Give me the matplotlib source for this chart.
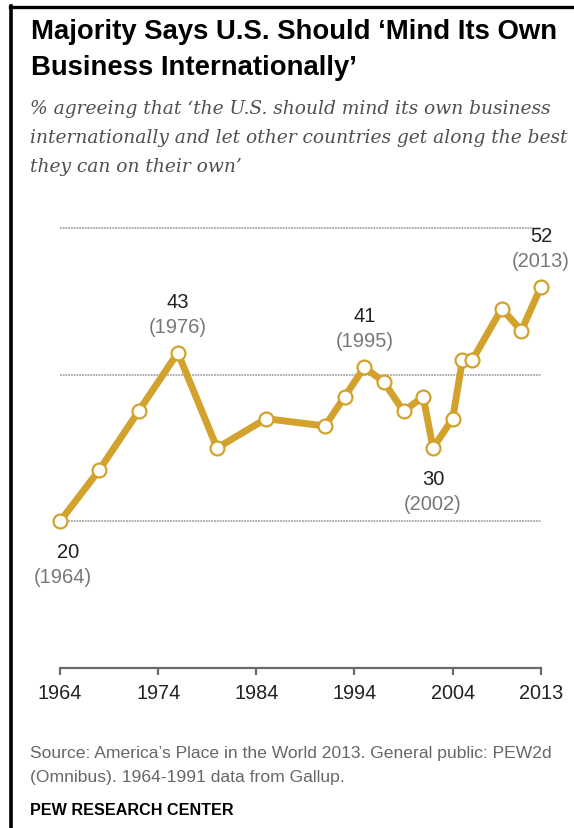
import matplotlib
matplotlib.use("Agg")
import matplotlib.pyplot as plt
from matplotlib.lines import Line2D

years = [1964, 1968, 1972, 1976, 1980, 1985, 1991, 1993, 1995, 1997, 1999, 2001, 2002, 2004, 2005, 2006, 2009, 2011, 2013]
values = [20, 27, 35, 43, 30, 34, 33, 37, 41, 39, 35, 37, 30, 34, 42, 42, 49, 46, 52]
tick_years = [1964, 1974, 1984, 1994, 2004, 2013]
grid_values = [20, 40, 60]
callouts = [(1964, 20, "below"), (1976, 43, "above"), (1995, 41, "above"), (2002, 30, "below"), (2013, 52, "above")]

W, H = 574, 829
fig = plt.figure(figsize=(W / 100, H / 100), dpi=100)

def fx(px):
    return px / W

def fy(py):
    return 1 - py / H

GOLD = "#D2A22C"
FONT = "Liberation Sans"

# frame lines
fig.add_artist(Line2D([fx(11), fx(11)], [fy(7), 0], color="black", lw=2.6, transform=fig.transFigure))
fig.add_artist(Line2D([fx(10), 1], [fy(8), fy(8)], color="black", lw=2.4, transform=fig.transFigure))

# title
fig.text(fx(31), fy(32), "Majority Says U.S. Should \u2018Mind Its Own", fontsize=19.8, fontweight="bold",
         family=FONT, va="center", ha="left", color="black")
fig.text(fx(31), fy(68), "Business Internationally\u2019", fontsize=19.8, fontweight="bold",
         family=FONT, va="center", ha="left", color="black")

sub = ["% agreeing that \u2018the U.S. should mind its own business",
       "internationally and let other countries get along the best",
       "they can on their own\u2019"]
for i, s in enumerate(sub):
    fig.text(fx(30), fy(109 + i * 29), s, fontsize=13.4, style="italic", family="DejaVu Serif",
             va="center", ha="left", color="#505050")

# axes
x0, x1 = 60, 541
y_top, y_bot = 229, 669
ax = fig.add_axes([fx(x0), fy(y_bot), (x1 - x0) / W, (y_bot - y_top) / H])
ax.set_xlim(1964, 2013)
ax.set_ylim(0, 60)
for sp in ["top", "right", "left"]:
    ax.spines[sp].set_visible(False)
ax.spines["bottom"].set_color("#6b6b6b")
ax.spines["bottom"].set_linewidth(1.6)
ax.set_yticks([])
ax.set_xticks(tick_years)
ax.set_xticklabels([str(t) for t in tick_years], fontsize=14.3, family=FONT, color="#222222")
ax.tick_params(axis="x", length=5, width=1.6, color="#6b6b6b", pad=6)
ax.patch.set_alpha(0)

for g in grid_values:
    ax.plot([1964, 2013], [g, g], color="#9a9a9a", lw=1.1, ls=(0, (1.2, 0.6)), zorder=1, clip_on=False)

ax.plot(years, values, color=GOLD, lw=5.0, zorder=3, clip_on=False, solid_capstyle="round")
ax.plot(years, values, ls="none", marker="o", markersize=10, markerfacecolor="white",
        markeredgecolor=GOLD, markeredgewidth=1.6, zorder=4, clip_on=False)

for yr, v, pos in callouts:
    if pos == "above":
        o1, o2 = 37, 19
    else:
        o1, o2 = -22, -40
    dx = 6 if yr == 1964 else 0
    ax.annotate(str(v), (yr, v), xytext=(dx, o1), textcoords="offset points", ha="center", va="center",
                fontsize=14.5, family=FONT, color="#222222", annotation_clip=False)
    ax.annotate(f"({yr})", (yr, v), xytext=(0 if yr != 1964 else 2, o2), textcoords="offset points",
                ha="center", va="center", fontsize=14.5, family=FONT, color="#777777",
                annotation_clip=False)

fig.text(fx(30), fy(754), "Source: America\u2019s Place in the World 2013. General public: PEW2d",
         fontsize=12.6, family=FONT, color="#666666", va="center", ha="left")
fig.text(fx(30), fy(778), "(Omnibus). 1964-1991 data from Gallup.",
         fontsize=12.6, family=FONT, color="#666666", va="center", ha="left")
fig.text(fx(30), fy(811), "PEW RESEARCH CENTER", fontsize=11.6, fontweight="bold", family=FONT,
         color="black", va="center", ha="left")

fig.savefig("out.png", dpi=100)
